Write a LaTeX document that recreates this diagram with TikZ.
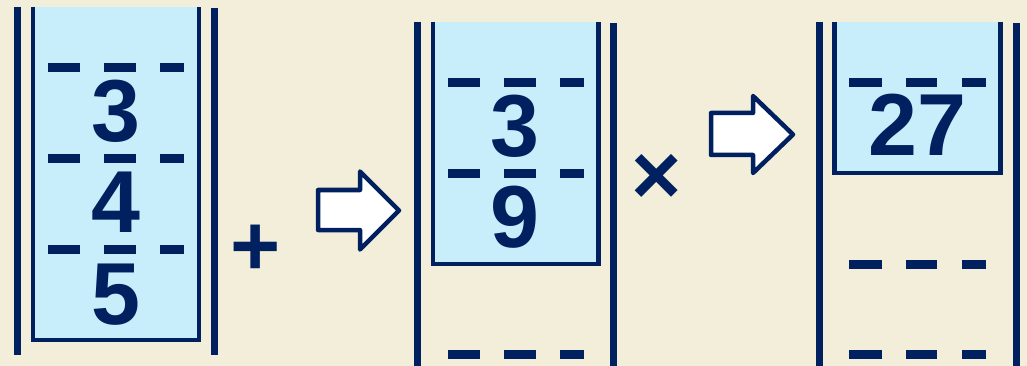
\documentclass[tikz,border=0pt]{standalone}
\usepackage{fontspec}
\setmainfont{Liberation Sans}
\definecolor{navy}{RGB}{0,32,96}
\definecolor{fillblue}{RGB}{200,238,252}
\definecolor{bg}{RGB}{243,238,218}
\begin{document}
\begin{tikzpicture}[x=1pt,y=-1pt,
  bar/.style={navy,line width=7pt},
  boxline/.style={navy,line width=4.5pt,line join=miter},
  dsh/.style={navy,line width=9pt},
  num/.style={font=\fontsize{88}{88}\bfseries\selectfont,text=navy,inner sep=0pt,anchor=base},
  sign/.style={font=\fontsize{86}{86}\bfseries\selectfont,text=navy,inner sep=0pt,anchor=center},
  blockarrow/.style={draw=navy,fill=white,line width=4.5pt,line join=round}]
\fill[bg] (0,0) rectangle (1027,366);
\useasboundingbox (0,0) rectangle (1027,366);

% ---------- panel 1 ----------
\fill[fillblue] (33,7) rectangle (199,340);
\draw[boxline] (33,7) -- (33,340) -- (199,340) -- (199,7);
\draw[bar] (17,7) -- (17,355);
\draw[bar] (214.5,8) -- (214.5,355);
\foreach \y in {68,158.5,249}{
  \draw[dsh] (48,\y) -- (80,\y);
  \draw[dsh] (104,\y) -- (136,\y);
  \draw[dsh] (160,\y) -- (184,\y);
}
\node[num] (a1) at (116,142) {3};
\node[num] (a2) at (116,232) {4};
\node[num] (a3) at (116,324) {5};
\node[sign] (plus) at (255.5,250.5) {+};

% ---------- arrow 1 ----------
\draw[blockarrow] (318,190) -- (360,190) -- (360,171.5) -- (399,210.5) -- (360,249.5) -- (360,230) -- (318,230) -- cycle;

% ---------- panel 2 ----------
\fill[fillblue] (433,22) rectangle (598.5,264);
\draw[boxline] (433,22) -- (433,264) -- (598.5,264) -- (598.5,22);
\draw[bar] (417.5,22) -- (417.5,366);
\draw[bar] (613.5,23) -- (613.5,366);
\foreach \y in {83,174,354}{
  \draw[dsh] (448,\y) -- (480,\y);
  \draw[dsh] (504,\y) -- (536,\y);
  \draw[dsh] (560,\y) -- (584,\y);
}
\node[num] (b1) at (515,157) {3};
\node[num] (b2) at (515,247) {9};
\node[sign] (times) at (657,179) {×};

% ---------- arrow 2 ----------
\draw[blockarrow] (711,113) -- (753,113) -- (753,96) -- (793,134.5) -- (753,173) -- (753,155) -- (711,155) -- cycle;

% ---------- panel 3 ----------
\fill[fillblue] (834.5,22) rectangle (1000.5,173);
\draw[boxline] (834.5,22) -- (834.5,173) -- (1000.5,173) -- (1000.5,22);
\draw[bar] (819.5,22) -- (819.5,366);
\draw[bar] (1016,23) -- (1016,366);
\foreach \y in {83,264,354}{
  \draw[dsh] (849,\y) -- (882,\y);
  \draw[dsh] (906,\y) -- (937,\y);
  \draw[dsh] (962,\y) -- (986,\y);
}
\node[num] (c1) at (917,156) {27};
\end{tikzpicture}
\end{document}
